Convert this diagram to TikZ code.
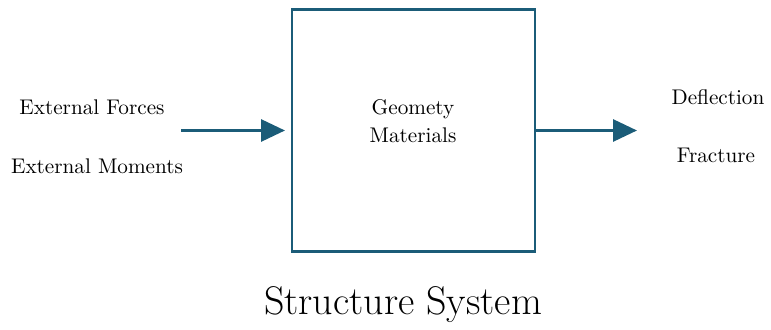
\documentclass[tikz,border=0pt]{standalone}
\usepackage{tikz}
\usetikzlibrary{arrows.meta}
\definecolor{flowc}{HTML}{1B5C78}
\tikzset{
  sb/.style={draw=flowc, line width=1.4pt, minimum width=121.5pt,
             minimum height=121pt, inner sep=0pt},                  % system box
  lbl/.style={font=\fontsize{10.6}{13}\selectfont, inner sep=1pt,
              align=center},                                        % io label
  fl/.style={draw=flowc, line width=1.5pt,
             -{Triangle[length=12pt,width=11pt]}},                  % flow arrow
}
\begin{document}
\begin{tikzpicture}[x=0.5pt, y=-0.5pt]
  \useasboundingbox (0,0) rectangle (771,330);
  \node[sb] (box) at (413.5,130.5) {};
  \node[lbl] (props) at (413,121) {Geomety\\[1pt]Materials};
  \node[lbl] (force) at (92,107) {External Forces};
  \node[lbl] (mom) at (97,166) {External Moments};
  \node[lbl] (defl) at (718,97) {Deflection};
  \node[lbl] (frac) at (716,155) {Fracture};
  \coordinate (in1) at (181,130.5);
  \coordinate (in2) at (285,130.5);
  \coordinate (out) at (637,130.5);
  \draw[fl] (in1) -- (in2);
  \draw[fl] (box.east) -- (out);
  \node[font=\fontsize{20}{24}\selectfont] (title) at (403,305) {Structure System};
\end{tikzpicture}
\end{document}
